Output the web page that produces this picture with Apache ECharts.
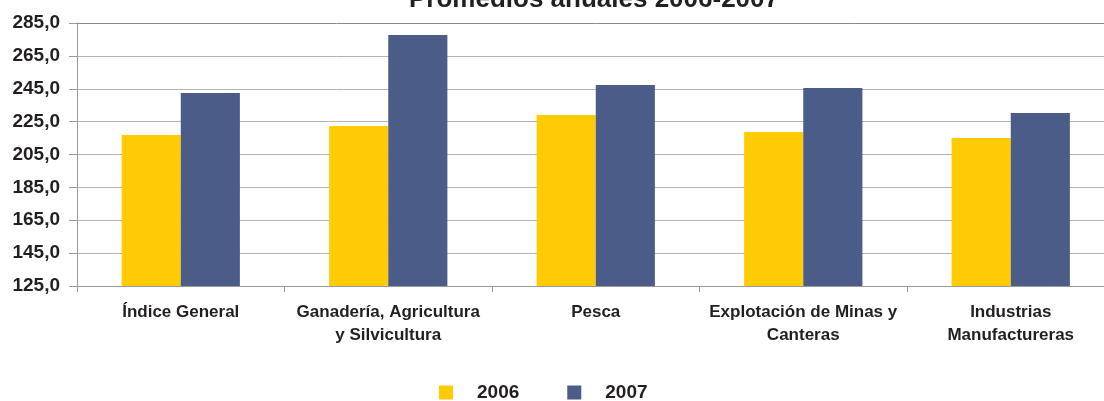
<!DOCTYPE html>
<html>
<head>
<meta charset="utf-8">
<script src="https://cdn.jsdelivr.net/npm/echarts@6/dist/echarts.min.js"></script>
<style>
    html, body { margin: 0; padding: 0; background: #fff; overflow: hidden; }
    /* el gráfico original está recortado por la derecha */
    #chart { width: 1116px; height: 401px; }
</style>
</head>
<body>
<div id="chart"></div>
<script>
//categorías
const categorias = ['Índice General', 'Ganadería, Agricultura\ny Silvicultura', 'Pesca', 'Explotación de Minas y\nCanteras', 'Industrias\nManufactureras'];
//series
const nombres = ['2006', '2007'];
const valores2006 = [216.9, 222.3, 229.0, 218.7, 215.0];
const valores2007 = [242.4, 277.7, 247.3, 245.5, 230.2];
//eje y
const yMin = 125;
const yMax = 285;
const yPaso = 20;

const colores = ['#FFCB05', '#4A5C87'];
const texto = '#231F20';
const fuente = 'Liberation Sans, Arial, sans-serif';

//color de cada línea de división, la última (arriba) más oscura
const lineas = [];
for (var i = yMin; i <= yMax; i += yPaso) {
    lineas.push(i === yMax ? '#8A8A8A' : '#B4B4B4');
}

const chart = echarts.init(document.getElementById('chart'));

const option = {
    animation: false,
    backgroundColor: '#fff',
    title: {
        text: 'Promedios anuales 2006-2007',
        left: 409,
        top: -13,
        padding: 0,
        textStyle: {
            color: texto,
            fontFamily: fuente,
            fontWeight: 'bold',
            fontSize: 26
        }
    },
    legend: {
        data: nombres,
        left: 439,
        top: 383,
        padding: 0,
        itemWidth: 14,
        itemHeight: 14,
        itemGap: 48,
        icon: 'rect',
        textStyle: {
            color: texto,
            fontFamily: fuente,
            fontWeight: 'bold',
            fontSize: 19,
            padding: [0, 0, 0, 19]
        }
    },
    grid: {
        left: 77,
        top: 23,
        width: 1037.5,
        height: 263,
        containLabel: false
    },
    xAxis: {
        type: 'category',
        data: categorias,
        axisLine: { lineStyle: { color: '#9A9A9A', width: 1 } },
        axisTick: { show: true, length: 6, lineStyle: { color: '#9A9A9A' } },
        axisLabel: {
            interval: 0,
            margin: 15,
            color: texto,
            fontFamily: fuente,
            fontWeight: 'bold',
            fontSize: 17,
            lineHeight: 23
        }
    },
    yAxis: {
        type: 'value',
        min: yMin,
        max: yMax,
        interval: yPaso,
        axisLine: { show: true, lineStyle: { color: '#9A9A9A' } },
        axisTick: { show: true, length: 8, lineStyle: { color: '#9A9A9A' } },
        axisLabel: {
            margin: 17,
            color: texto,
            fontFamily: fuente,
            fontWeight: 'bold',
            fontSize: 19,
            formatter: function (v) {
                return v.toFixed(1).replace('.', ',');
            }
        },
        splitLine: { show: true, lineStyle: { color: lineas, width: 1 } }
    },
    series: [
        {
            name: nombres[0],
            type: 'bar',
            data: valores2006,
            barGap: '0%',
            barCategoryGap: '43%',
            itemStyle: { color: colores[0] }
        },
        {
            name: nombres[1],
            type: 'bar',
            data: valores2007,
            barGap: '0%',
            barCategoryGap: '43%',
            itemStyle: { color: colores[1] }
        }
    ]
};

chart.setOption(option);
</script>
</body>
</html>
